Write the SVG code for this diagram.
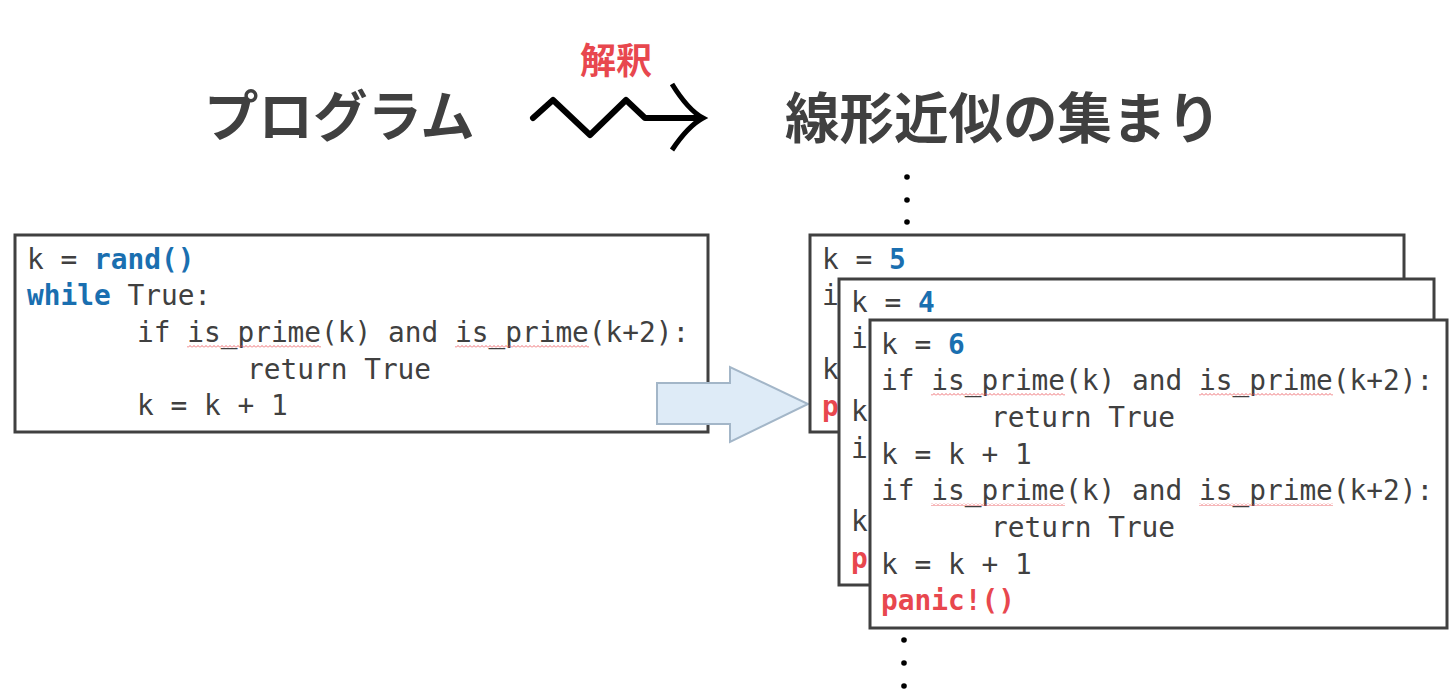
<svg xmlns="http://www.w3.org/2000/svg" width="1452" height="691" viewBox="0 0 1452 691">
<style>
.title{font-family:"Noto Sans CJK JP","Noto Sans",sans-serif;font-weight:bold;fill:#404040}
.code{font-family:"DejaVu Sans Mono","Liberation Mono",monospace;font-size:27.8px;fill:#404040}
.kw{fill:#1a6fb0;font-weight:bold}
.red{fill:#e8474e;font-weight:bold}
.box{fill:#fff;stroke:#404040;stroke-width:3}
.dot{fill:#000}
</style>
<defs>
<pattern id="wavy" x="0" y="0" width="4" height="3" patternUnits="userSpaceOnUse">
<path d="M0,2.5 L2,0.5 L4,2.5" fill="none" stroke="#e8474e" stroke-width="0.8"/>
</pattern>
</defs>

<g id="title-program"><text class="title" x="204" y="136" font-size="54.5">プログラム</text></g>
<g id="title-linear"><text class="title" x="785" y="138" font-size="54.5">線形近似の集まり</text></g>
<g id="label-interp"><text x="580" y="74" font-family="Noto Sans CJK JP,sans-serif" font-weight="bold" font-size="36" fill="#e8474e">解釈</text></g>

<g id="connectors">
<path d="M533,118 L553,100 L590,135 L626,100 L645,118 L700,118" fill="none" stroke="#000" stroke-width="6" stroke-linejoin="round" stroke-linecap="round"/>
<path d="M672,84 Q688,110 703,118 Q688,126 672,150" fill="none" stroke="#000" stroke-width="5"/>
</g>

<g id="program-box">
<rect class="box" x="15" y="235" width="693" height="197"/>
<text class="code" x="27" y="269">k = <tspan class="kw">rand()</tspan></text>
<text class="code" x="27" y="305"><tspan class="kw">while</tspan> True:</text>
<text class="code" x="137" y="342">if is_prime(k) and is_prime(k+2):</text>
<rect x="187" y="345" width="134" height="3" fill="url(#wavy)"/>
<rect x="455" y="345" width="134" height="3" fill="url(#wavy)"/>
<text class="code" x="247" y="379">return True</text>
<text class="code" x="137" y="415">k = k + 1</text>
</g>

<g id="block-arrow">
<path d="M657,383 L730,383 L730,367 L808,404 L730,442 L730,424 L657,424 Z" fill="#deebf7" stroke="#a3b6c8" stroke-width="2"/>
</g>

<g id="dots-top">
<circle class="dot" cx="907" cy="177" r="2.8"/>
<circle class="dot" cx="907" cy="200" r="2.8"/>
<circle class="dot" cx="907" cy="222" r="2.8"/>
</g>

<g id="box-k5">
<rect class="box" x="810" y="235" width="594" height="197"/>
<text class="code" x="822" y="269">k = <tspan class="kw">5</tspan></text>
<text class="code" x="822" y="305">i</text>
<text class="code" x="822" y="379">k</text>
<text class="code" x="822" y="416"><tspan class="red">p</tspan></text>
</g>

<g id="box-k4">
<rect class="box" x="839" y="279" width="595" height="306"/>
<text class="code" x="851" y="312">k = <tspan class="kw">4</tspan></text>
<text class="code" x="851" y="348">i</text>
<text class="code" x="851" y="421">k</text>
<text class="code" x="851" y="458">i</text>
<text class="code" x="851" y="531">k</text>
<text class="code" x="851" y="568"><tspan class="red">p</tspan></text>
</g>

<g id="box-k6">
<rect class="box" x="870" y="320" width="577" height="308"/>
<text class="code" x="881" y="354">k = <tspan class="kw">6</tspan></text>
<text class="code" x="881" y="390">if is_prime(k) and is_prime(k+2):</text>
<rect x="931" y="393" width="134" height="3" fill="url(#wavy)"/>
<rect x="1199" y="393" width="134" height="3" fill="url(#wavy)"/>
<text class="code" x="991" y="427">return True</text>
<text class="code" x="881" y="464">k = k + 1</text>
<text class="code" x="881" y="500">if is_prime(k) and is_prime(k+2):</text>
<rect x="931" y="503" width="134" height="3" fill="url(#wavy)"/>
<rect x="1199" y="503" width="134" height="3" fill="url(#wavy)"/>
<text class="code" x="991" y="537">return True</text>
<text class="code" x="881" y="574">k = k + 1</text>
<text class="code" x="881" y="610"><tspan class="red">panic!()</tspan></text>
</g>

<g id="dots-bottom">
<circle class="dot" cx="904" cy="640" r="2.8"/>
<circle class="dot" cx="904" cy="663" r="2.8"/>
<circle class="dot" cx="904" cy="686" r="2.8"/>
</g>
</svg>
